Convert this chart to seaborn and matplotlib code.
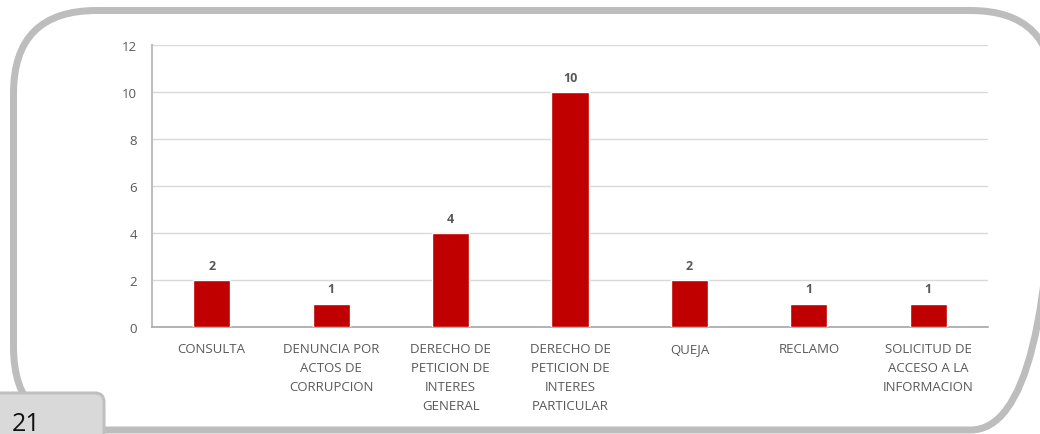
import matplotlib
matplotlib.use("Agg")
import matplotlib.pyplot as plt
from matplotlib.patches import FancyBboxPatch
import seaborn as sns
import pandas as pd

categories = [
    "CONSULTA",
    "DENUNCIA POR\nACTOS DE\nCORRUPCION",
    "DERECHO DE\nPETICION DE\nINTERES\nGENERAL",
    "DERECHO DE\nPETICION DE\nINTERES\nPARTICULAR",
    "QUEJA",
    "RECLAMO",
    "SOLICITUD DE\nACCESO A LA\nINFORMACION",
]
values = [2, 1, 4, 10, 2, 1, 1]
y_ticks = [0, 2, 4, 6, 8, 10, 12]
page_number = "21"

sns.set_theme(style="white")
plt.rcParams["font.family"] = ["Open Sans", "DejaVu Sans"]

W, H = 1040, 435
fig = plt.figure(figsize=(W / 100, H / 100), dpi=100)
fig.patch.set_facecolor("white")

# background overlay in pixel coordinates
bg = fig.add_axes([0, 0, 1, 1], zorder=0)
bg.set_xlim(0, W)
bg.set_ylim(H, 0)
bg.axis("off")
frame = FancyBboxPatch((13.5, 11.5), 1040, 419.5,
                       boxstyle="round,pad=0,rounding_size=83",
                       facecolor="none", edgecolor="#bdbdbd", linewidth=7 * 0.72)
bg.add_patch(frame)

df = pd.DataFrame({"cat": categories, "val": values})
ax = fig.add_axes([152 / W, 1 - 328 / H, (988 - 152) / W, (328 - 46) / H], zorder=1)
ax.patch.set_alpha(0)
sns.barplot(data=df, x="cat", y="val", color="#C00000", width=0.31,
            saturation=1, ax=ax, zorder=3)
ax.set_ylim(0, 12)
ax.set_yticks(y_ticks)
ax.set_xlim(-0.5, len(categories) - 0.5)
ax.set_xlabel("")
ax.set_ylabel("")
for t in y_ticks[1:]:
    ax.axhline(t, color="#d9d9d9", lw=1, zorder=1)
for s in ["top", "right"]:
    ax.spines[s].set_visible(False)
ax.spines["left"].set_color("#bfbfbf")
ax.spines["left"].set_linewidth(1.5)
ax.spines["bottom"].set_color("#a6a6a6")
ax.spines["bottom"].set_linewidth(1.2)
ax.tick_params(axis="y", length=0, pad=11, labelsize=9.5, labelcolor="#595959")
ax.tick_params(axis="x", length=0, pad=11, labelsize=9.5, labelcolor="#595959")
for lab in ax.get_xticklabels():
    lab.set_linespacing(1.6)
    lab.set_verticalalignment("top")
for c in ax.containers:
    ax.bar_label(c, padding=6, fontsize=9, color="#595959", fontweight="bold")

# page tab
fg = fig.add_axes([0, 0, 1, 1], zorder=5)
fg.set_xlim(0, W)
fg.set_ylim(H, 0)
fg.axis("off")
fg.patch.set_alpha(0)
tab = FancyBboxPatch((-20, 394), 124, 60,
                     boxstyle="round,pad=0,rounding_size=9",
                     facecolor="#d9d9d9", edgecolor="#bfbfbf", linewidth=3 * 0.72)
fg.add_patch(tab)
fg.text(12, 431, page_number, fontsize=18, color="#111111",
        family=["Open Sans", "DejaVu Sans"], ha="left", va="baseline")

fig.savefig("out.png", dpi=100)
